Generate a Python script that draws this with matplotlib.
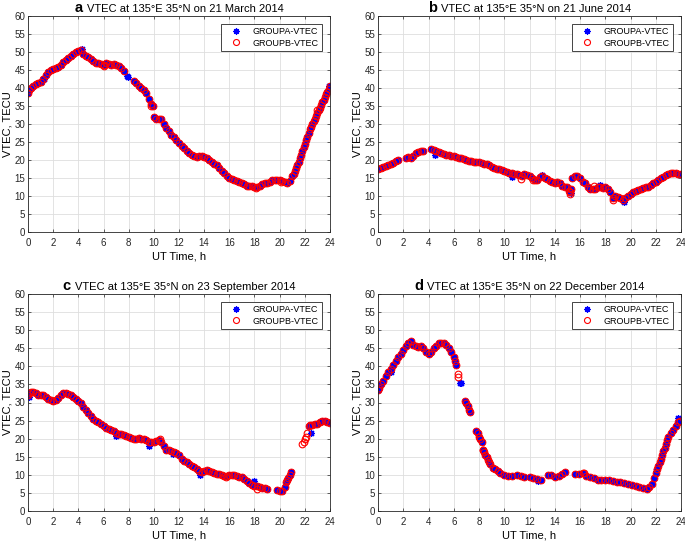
import numpy as np
import matplotlib
matplotlib.use('Agg')
import matplotlib.pyplot as plt
from matplotlib.offsetbox import TextArea, HPacker, AnchoredOffsetbox

# ---- data (UT hour, VTEC in TECU) ----
# points shared by both groups, plus a few seen only for one group

# a: 21 March 2014
a_t = [0, 0.1, 0.2, 0.4, 0.6, 0.8, 1.0, 1.2, 1.4, 1.6, 1.8, 2.0, 2.2, 2.4, 2.6, 2.8, 3.0, 3.2, 3.4, 3.6,
       3.8, 4.0, 4.2, 4.4, 4.6, 4.8, 5.0, 5.2, 5.4, 5.6, 5.8, 6.0, 6.2, 6.4, 6.6, 6.8, 7.0, 7.2, 7.4, 7.6,
       8.4, 8.6, 8.8, 9.0, 9.2, 9.4, 9.6, 9.8, 9.9, 10.0, 10.2, 10.4, 10.6, 10.8, 11.0, 11.2, 11.4, 11.6,
       11.8, 12.0, 12.2, 12.4, 12.6, 12.8, 13.0, 13.2, 13.4, 13.6, 13.8, 14.0, 14.2, 14.4, 14.6, 14.8, 15.0,
       15.2, 15.4, 15.6, 15.8, 16.0, 16.2, 16.4, 16.6, 16.8, 17.0, 17.2, 17.4, 17.6, 17.8, 18.0, 18.2, 18.4,
       18.6, 18.8, 19.0, 19.2, 19.4, 19.6, 19.8, 20.0, 20.2, 20.4, 20.6, 20.8, 21.0, 21.1, 21.2, 21.3, 21.4,
       21.5, 21.6, 21.7, 21.8, 21.9, 22.0, 22.1, 22.2, 22.3, 22.4, 22.5, 22.6, 22.7, 22.8, 22.9, 23.0, 23.1,
       23.2, 23.3, 23.4, 23.5, 23.6, 23.7, 23.8, 23.9, 24.0]
a_v = [38.5, 39.5, 40, 40.5, 41, 41.3, 41.8, 42.5, 43.5, 44.5, 45, 45.2, 45.5, 45.8, 46.5, 47.2, 47.8, 48.3,
       48.8, 49.5, 50, 50.2, 50.5, 49.5, 49, 48.5, 48, 47.5, 47, 47, 46.8, 46.5, 47, 46.8, 46.5, 46.8, 46.5,
       46, 45.5, 44.8, 42, 41.5, 40.5, 40, 39.5, 38.5, 37, 35.5, 35, 32, 31.5, 31.5, 31.5, 30, 29, 28, 27,
       26.5, 25.5, 24.8, 24, 23.2, 22.5, 22, 21.5, 21, 20.8, 21, 21, 20.8, 20.5, 20, 19.5, 19, 18.5, 17.8,
       17, 16.3, 15.5, 15, 14.8, 14.5, 14.3, 14, 13.5, 13.2, 12.8, 12.8, 12.8, 12.5, 12.5, 12.8, 13.2, 13.5,
       13.5, 14, 14.5, 14.5, 14.5, 14.5, 14.2, 13.8, 13.5, 14.2, 15.5, 16.2, 17, 17.8, 18.5, 19.5, 20.5, 21.5,
       22.5, 23.5, 24.5, 25.5, 26.5, 27.5, 28.5, 29.3, 30, 30.8, 31.5, 32.3, 33, 33.8, 34.5, 35.3, 36, 36.8,
       37.5, 38.3, 39, 39.8, 40.5]
a_tA = [1.2, 1.3, 7.9, 7.95, 4.3, 17.3, 19.5, 23.95]
a_vA = [42.5, 42.5, 43.3, 43.0, 50.8, 13.0, 14.5, 40.5]
a_tB = [6.0, 9.8, 18.1, 20.1, 23.0]
a_vB = [46.0, 35.0, 12.2, 14.0, 34.0]

# b: 21 June 2014
b_t = [0, 0.2, 0.4, 0.6, 0.8, 1.0, 1.2, 1.4, 1.6, 2.2, 2.4, 2.6, 2.8, 3.0, 3.2, 3.4, 3.6, 4.2, 4.4, 4.6,
       4.8, 5.0, 5.2, 5.4, 5.6, 5.8, 6.0, 6.2, 6.4, 6.6, 6.8, 7.0, 7.2, 7.4, 7.6, 7.8, 8.0, 8.2, 8.4, 8.6,
       8.8, 9.0, 9.2, 9.4, 9.6, 9.8, 10.0, 10.2, 10.4, 10.6, 10.8, 11.0, 11.2, 11.4, 11.6, 11.8, 12.0, 12.2,
       12.4, 12.6, 12.8, 13.0, 13.2, 13.4, 13.6, 13.8, 14.0, 14.2, 14.4, 14.6, 14.8, 15.0, 15.1, 15.2, 15.3,
       15.4, 15.6, 15.8, 16.0, 16.2, 16.4, 16.6, 16.8, 17.0, 17.2, 17.4, 17.6, 17.8, 18.0, 18.2, 18.4, 18.6,
       18.8, 19.0, 19.2, 19.4, 19.6, 19.8, 20.0, 20.2, 20.4, 20.6, 20.8, 21.0, 21.2, 21.4, 21.6, 21.8, 22.0,
       22.2, 22.4, 22.6, 22.8, 23.0, 23.2, 23.4, 23.6, 23.8, 24.0]
b_v = [17.5, 17.8, 18, 18.3, 18.5, 19, 19.2, 19.8, 20, 20.5, 20.8, 20.5, 21, 22, 22.3, 22.5, 22.5, 23, 22.8,
       22.5, 22.2, 22, 21.8, 21.5, 21.3, 21, 21, 20.8, 20.6, 20.5, 20.3, 20, 19.8, 19.6, 19.5, 19.5, 19.5,
       19.3, 19, 18.8, 18.5, 18, 17.8, 17.5, 17.5, 17.2, 17, 16.8, 16.5, 16.3, 16, 16, 15.8, 15.5, 16, 15.8,
       15.5, 15, 14.5, 14.5, 15.2, 15.5, 15, 14.8, 14.3, 13.8, 13.5, 13.8, 13.5, 12.8, 12.5, 12.5, 11.5, 11,
       12, 15, 15.5, 15.5, 15, 14, 13.5, 12.5, 12, 12, 12, 12.5, 12.5, 12.3, 12.5, 12, 11, 9.5, 10, 9.8, 9.5,
       9, 9.5, 10, 10.5, 11, 11.5, 11.8, 12, 12.3, 12.5, 12.5, 13, 13.5, 14, 14.5, 15, 15.3, 15.8, 16, 16.3,
       16.5, 16.5, 16, 16]
b_tA = [4.5, 10.6, 13.0, 19.5, 15.25, 17.6]
b_vA = [21.5, 15.2, 15.8, 8.3, 10.8, 13.0]
b_tB = [11.3, 12.3, 18.6, 15.2, 17.1]
b_vB = [14.8, 14.5, 9.0, 10.5, 12.8]

# c: 23 September 2014
c_t = [0, 0.1, 0.2, 0.4, 0.6, 0.8, 1.0, 1.2, 1.4, 1.6, 1.8, 2.0, 2.2, 2.4, 2.6, 2.8, 3.0, 3.2, 3.4, 3.6,
       3.8, 4.0, 4.2, 4.4, 4.6, 4.8, 5.0, 5.2, 5.4, 5.6, 5.8, 6.0, 6.2, 6.4, 6.6, 6.8, 7.0, 7.2, 7.4, 7.6,
       7.8, 8.0, 8.2, 8.4, 8.6, 8.8, 9.0, 9.2, 9.4, 9.6, 9.8, 10.0, 10.2, 10.4, 10.6, 10.8, 11.0, 11.2, 11.4,
       11.6, 11.8, 12.0, 12.2, 12.4, 12.6, 12.8, 13.0, 13.2, 13.4, 13.6, 13.8, 14.0, 14.2, 14.4, 14.6, 14.8,
       15.0, 15.2, 15.4, 15.6, 15.8, 16.0, 16.2, 16.4, 16.6, 16.8, 17.0, 17.2, 17.4, 17.6, 17.8, 18.0, 18.2,
       18.4, 18.6, 18.8, 19.0, 19.8, 20.0, 20.2, 20.4, 20.5, 20.6, 20.7, 20.8, 20.9, 22.3, 22.4, 22.6, 22.8,
       23.0, 23.2, 23.4, 23.6, 23.8, 24.0]
c_v = [32, 32.5, 33, 32.8, 32.5, 32.2, 32, 32, 31.5, 31, 30.8, 30.5, 30.8, 31.2, 32, 32.5, 32.5, 32.3, 32,
       31.5, 31, 30.5, 29.8, 28.8, 28, 27, 26.3, 25.5, 25, 24.5, 24, 23.5, 23, 22.7, 22.5, 22, 21.5, 21.3,
       21.2, 21, 20.8, 20.5, 20.3, 20, 20, 20.2, 20, 19.8, 19.5, 19.2, 19, 19, 19.3, 19.5, 19, 18, 17, 16.8,
       16.5, 16.3, 16, 15.5, 14.5, 13.8, 13.5, 13, 12.5, 12.2, 11.5, 11, 10.8, 11, 11.3, 11, 10.8, 10.5, 10.3,
       10.2, 10, 9.8, 9.8, 10, 10, 10, 9.8, 9.5, 9.3, 8.8, 8.3, 7.8, 7.3, 7, 6.8, 6.5, 6.3, 6.3, 6.2, 5.8,
       5.5, 5.5, 6.5, 8, 8.5, 9, 10, 10.8, 23.5, 23.8, 23.8, 24, 24, 24.5, 25, 25, 24.5, 24.2]
c_tA = [7.0, 9.6, 13.7, 18.0, 22.5, 11.5, 0.05]
c_vA = [20.8, 18.0, 10.0, 8.2, 21.5, 15.8, 31.5]
c_tB = [21.8, 21.9, 22.0, 22.1, 22.2, 15.7, 18.2, 10.5]
c_vB = [18.5, 19.0, 20.0, 20.5, 21.5, 9.3, 6.0, 19.8]

# d: 22 December 2014
d_t = [0, 0.1, 0.2, 0.4, 0.6, 0.8, 1.0, 1.2, 1.4, 1.6, 1.8, 2.0, 2.2, 2.4, 2.6, 2.8, 3.0, 3.2, 3.4, 3.6,
       3.8, 4.0, 4.2, 4.4, 4.6, 4.8, 5.0, 5.2, 5.4, 5.6, 5.8, 6.0, 6.1, 6.2, 6.9, 7.0, 7.1, 7.2, 7.25, 7.8,
       7.9, 8.0, 8.1, 8.2, 8.3, 8.4, 8.5, 8.6, 8.7, 8.8, 8.9, 9.1, 9.3, 9.5, 9.7, 10.0, 10.3, 10.6, 11.0,
       11.3, 11.6, 12.0, 12.3, 12.6, 12.9, 13.5, 13.7, 14.0, 14.3, 14.6, 14.8, 15.6, 15.9, 16.2, 16.5, 16.8,
       17.1, 17.4, 17.7, 18.0, 18.3, 18.6, 18.9, 19.2, 19.5, 19.8, 20.1, 20.4, 20.7, 21.0, 21.3, 21.5, 21.7,
       21.9, 22.0, 22.1, 22.2, 22.3, 22.4, 22.5, 22.6, 22.7, 22.8, 22.9, 23.0, 23.2, 23.4, 23.6, 23.8, 23.9]
d_v = [33.5, 34, 35, 36, 37.3, 38.5, 39.3, 40.3, 41.5, 42.5, 43.5, 44.5, 45.5, 46.5, 47, 46, 45.5, 45.3,
       45.5, 45, 44, 43.5, 44, 45, 45.5, 46.5, 46.5, 46.5, 46, 45, 44, 42.5, 41.5, 40.5, 30.5, 30, 29, 28,
       27.5, 22, 21.5, 20.5, 20, 19, 17, 16.2, 15.5, 14.8, 14, 13.5, 13, 12, 11.5, 11, 10.5, 10, 9.8, 9.8,
       10, 9.8, 9.5, 9.3, 9, 8.8, 8.5, 10, 10, 9.5, 9.8, 10.3, 10.8, 10.2, 10.2, 10.5, 9.8, 9.3, 9, 8.7, 8.5,
       8.5, 8.5, 8.2, 8, 8, 7.8, 7.5, 7.2, 6.8, 6.5, 6.3, 6, 6.5, 7.5, 9, 10.5, 11.5, 12.5, 13.5, 14.5, 15.5,
       16.5, 17.5, 18.5, 19.5, 20.5, 21.5, 22.5, 23.5, 24.5, 25]
d_tA = [6.5, 6.6, 22.05, 23.9, 23.8, 1.0, 12.7]
d_vA = [35.5, 35.5, 11.0, 25.5, 25.8, 38.5, 8.3]
d_tB = [6.3, 6.35, 16.3, 8.3]
d_vB = [38.0, 37.0, 10.5, 16.8]

panels = [
    ('a', '21 March 2014', a_t, a_v, a_tA, a_vA, a_tB, a_vB),
    ('b', '21 June 2014', b_t, b_v, b_tA, b_vA, b_tB, b_vB),
    ('c', '23 September 2014', c_t, c_v, c_tA, c_vA, c_tB, c_vB),
    ('d', '22 December 2014', d_t, d_v, d_tA, d_vA, d_tB, d_vB),
]

W, H = 685, 541
# axes boxes in pixels: left, top, right, bottom
boxes = [(28, 16, 330, 232), (378, 16, 681, 232), (28, 294, 330, 511), (378, 294, 681, 511)]

plt.rcParams['font.family'] = 'Liberation Sans'
fig = plt.figure(figsize=(W / 100, H / 100), dpi=100)

asterisk = (8, 2, 0)  # matlab-like '*'

for (letter, date, t, v, tA, vA, tB, vB), (l, tp, r, b) in zip(panels, boxes):
    ax = fig.add_axes([l / W, 1 - b / H, (r - l) / W, (b - tp) / H])
    xa = list(t) + list(tA)
    ya = list(v) + list(vA)
    xb = list(t) + list(tB)
    yb = list(v) + list(vB)
    ax.plot(xa, ya, linestyle='none', marker=asterisk, color='blue', ms=5, mew=0.9, label='GROUPA-VTEC')
    ax.plot(xb, yb, 'o', color='red', mfc='none', ms=4.8, mew=0.8, label='GROUPB-VTEC')
    ax.set_xlim(0, 24)
    ax.set_ylim(0, 60)
    ax.set_xticks(np.arange(0, 25, 2))
    ax.set_yticks(np.arange(0, 61, 5))
    ax.tick_params(direction='in', length=2.5, width=0.5, labelsize=7, top=True, right=True,
                   colors='0.15', pad=2)
    ax.tick_params(axis='x', pad=4)
    ax.grid(True, color='0.87', lw=0.6)
    ax.set_axisbelow(True)
    for s in ax.spines.values():
        s.set_linewidth(0.6)
        s.set_color('0.15')
    ax.set_xlabel('UT Time, h', fontsize=8, labelpad=3)
    ax.set_ylabel('VTEC, TECU', fontsize=8, labelpad=1)
    leg = ax.legend(loc='upper right', fontsize=6.5, fancybox=False, edgecolor='0.15',
                    framealpha=1, borderpad=0.35, handletextpad=0.6, handlelength=2.6,
                    labelspacing=0.25, borderaxespad=0.9, markerscale=0.9)
    leg.get_frame().set_linewidth(0.6)

    tl = TextArea(letter, textprops=dict(fontsize=10.5, fontweight='bold', color='black'))
    tt = TextArea('VTEC at 135\u00b0E 35\u00b0N on ' + date, textprops=dict(fontsize=8, color='black'))
    pack = HPacker(children=[tl, tt], align='baseline', pad=0, sep=3)
    ab = AnchoredOffsetbox(loc='lower center', child=pack, pad=0, frameon=False,
                           bbox_to_anchor=(0.5, 1.005), bbox_transform=ax.transAxes, borderpad=0)
    ax.add_artist(ab)

fig.savefig('out.png', dpi=100)
